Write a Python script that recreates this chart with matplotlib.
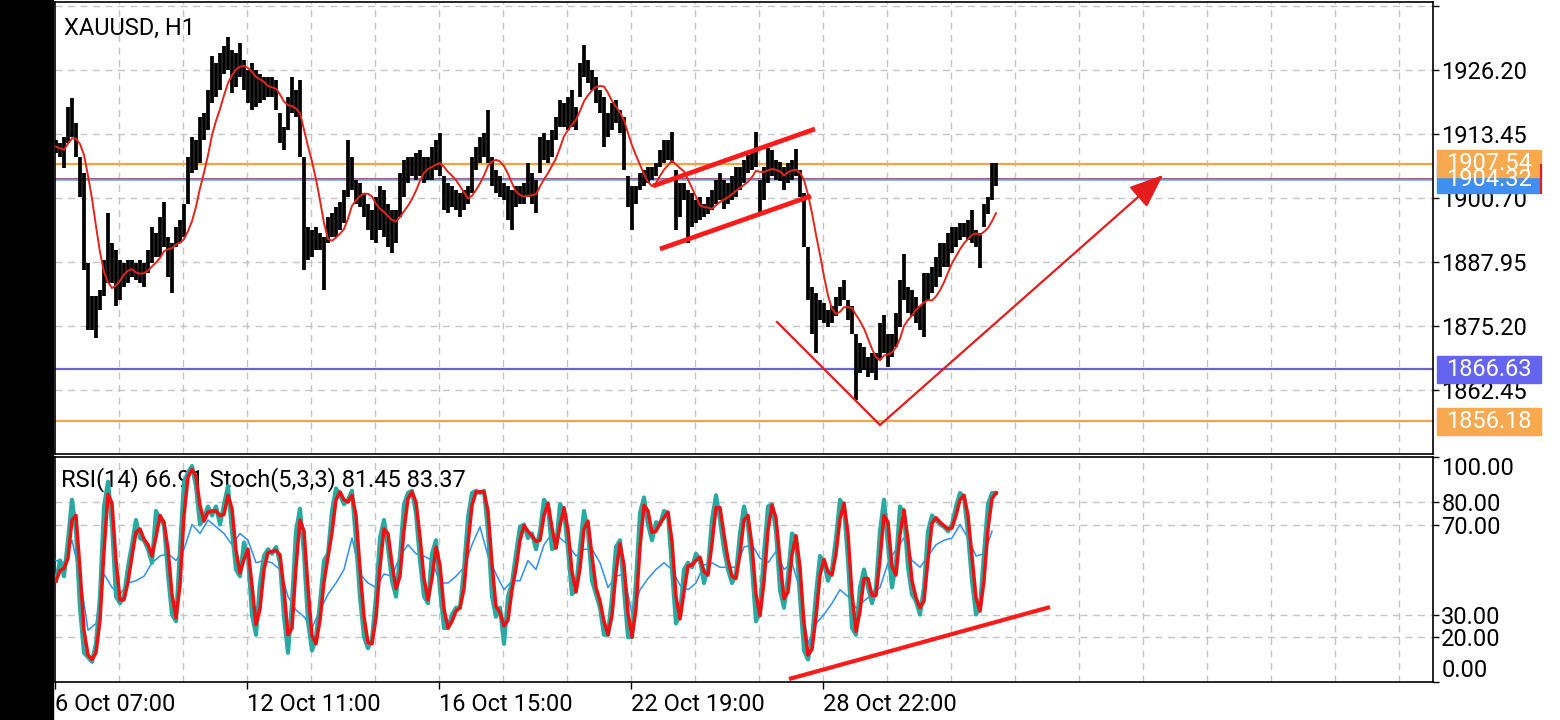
import matplotlib
matplotlib.use("Agg")
import matplotlib.pyplot as plt
from matplotlib.patches import Rectangle
import numpy as np
import pandas as pd

plt.rcParams['font.family'] = ['Roboto', 'DejaVu Sans']

# XAUUSD H1, one value per two hourly bars
bar_high = [
    1912.3, 1911.6, 1912.9, 1918.9, 1920.6, 1915.6, 1908.9, 1905.6, 1887.7, 1881.1,
    1881.1, 1882.4, 1888.4, 1897.7, 1891.7, 1890.4, 1888.4, 1887.7, 1888.4, 1888.4,
    1887.7, 1888.4, 1887.7, 1890.4, 1895.0, 1893.7, 1897.0, 1900.0, 1893.0, 1891.7,
    1895.0, 1896.3, 1899.6, 1908.9, 1912.9, 1912.3, 1916.9, 1917.6, 1922.2, 1928.9,
    1927.5, 1929.5, 1930.9, 1932.8, 1930.2, 1929.5, 1931.5, 1928.2, 1926.2, 1927.5,
    1926.2, 1925.5, 1924.9, 1924.9, 1924.9, 1924.2, 1917.6, 1914.9, 1920.9, 1924.9,
    1922.2, 1924.2, 1908.9, 1895.0, 1894.3, 1895.0, 1893.7, 1893.0, 1897.0, 1897.7,
    1899.0, 1900.0, 1902.3, 1912.3, 1908.9, 1904.3, 1903.6, 1901.6, 1899.6, 1898.3,
    1901.0, 1903.0, 1902.3, 1899.6, 1898.3, 1898.3, 1905.6, 1908.3, 1908.9, 1908.9,
    1909.6, 1910.3, 1908.9, 1908.9, 1910.9, 1912.3, 1913.6, 1905.0, 1903.6, 1903.0,
    1902.3, 1901.6, 1902.3, 1903.0, 1908.9, 1910.9, 1912.9, 1913.6, 1918.2, 1908.9,
    1906.3, 1905.0, 1903.6, 1903.0, 1902.3, 1903.0, 1903.0, 1903.6, 1907.6, 1905.6,
    1904.3, 1912.9, 1913.6, 1912.3, 1914.3, 1916.9, 1920.2, 1919.6, 1920.9, 1922.2,
    1918.9, 1927.5, 1931.2, 1928.2, 1926.2, 1924.9, 1922.2, 1920.9, 1917.6, 1919.6,
    1920.2, 1918.2, 1916.9, 1905.0, 1903.0, 1903.0, 1905.6, 1906.3, 1906.9, 1906.9,
    1907.6, 1910.3, 1912.3, 1912.3, 1913.9, 1906.3, 1903.6, 1903.6, 1902.3, 1901.6,
    1900.3, 1901.0, 1899.6, 1901.0, 1902.3, 1904.3, 1905.6, 1904.3, 1903.6, 1905.0,
    1906.9, 1906.9, 1908.3, 1909.3, 1909.6, 1913.9, 1904.3, 1906.9, 1910.6, 1910.3,
    1908.3, 1907.9, 1906.9, 1907.6, 1908.3, 1910.4, 1906.3, 1901.6, 1891.0, 1883.0,
    1881.7, 1880.4, 1879.7, 1878.4, 1879.1, 1881.0, 1883.0, 1884.4, 1880.4, 1879.1,
    1873.7, 1871.8, 1871.1, 1869.1, 1869.8, 1869.8, 1875.7, 1877.4, 1873.7, 1873.7,
    1877.7, 1884.4, 1889.5, 1883.0, 1882.4, 1881.0, 1879.1, 1885.7, 1885.7, 1887.0,
    1889.0, 1891.7, 1891.7, 1893.7, 1895.0, 1895.0, 1895.7, 1895.7, 1896.3, 1898.3,
    1894.3, 1893.7, 1899.6, 1901.0, 1907.6, 1907.7]
bar_low = [
    1909.6, 1908.9, 1906.6, 1911.6, 1912.9, 1908.9, 1901.0, 1886.4, 1874.4, 1874.4,
    1872.8, 1878.4, 1881.1, 1883.7, 1883.7, 1879.1, 1880.4, 1883.0, 1883.7, 1885.0,
    1884.4, 1883.7, 1883.0, 1885.7, 1887.7, 1889.0, 1889.0, 1891.0, 1885.0, 1881.7,
    1891.0, 1891.7, 1893.0, 1899.6, 1905.6, 1906.3, 1907.6, 1912.3, 1914.3, 1919.6,
    1920.9, 1922.2, 1925.5, 1926.2, 1921.6, 1922.9, 1924.9, 1922.2, 1919.6, 1918.2,
    1918.9, 1919.6, 1920.2, 1920.9, 1920.9, 1918.2, 1911.6, 1910.3, 1914.3, 1917.6,
    1916.9, 1908.9, 1886.4, 1888.4, 1889.0, 1890.3, 1890.3, 1882.4, 1891.7, 1893.0,
    1893.0, 1894.3, 1895.7, 1901.0, 1902.3, 1899.6, 1899.0, 1897.0, 1894.3, 1892.3,
    1891.7, 1894.3, 1893.0, 1891.0, 1889.7, 1891.7, 1897.0, 1901.0, 1903.6, 1905.0,
    1904.3, 1905.0, 1903.6, 1904.3, 1904.3, 1906.3, 1905.0, 1898.3, 1897.7, 1899.0,
    1898.3, 1897.0, 1898.3, 1899.6, 1901.6, 1906.3, 1907.6, 1908.9, 1907.6, 1903.0,
    1901.6, 1901.0, 1900.3, 1896.3, 1894.3, 1899.0, 1899.6, 1899.6, 1901.0, 1899.6,
    1897.7, 1905.6, 1908.3, 1907.6, 1908.9, 1912.3, 1914.9, 1914.9, 1914.3, 1914.9,
    1914.3, 1920.9, 1924.9, 1923.6, 1922.2, 1919.6, 1917.6, 1910.9, 1912.9, 1914.3,
    1915.6, 1913.6, 1906.3, 1899.0, 1894.3, 1899.6, 1902.3, 1903.0, 1903.6, 1904.3,
    1905.0, 1906.9, 1907.6, 1908.3, 1907.6, 1894.3, 1897.0, 1900.3, 1891.7, 1895.0,
    1895.7, 1896.3, 1897.0, 1897.6, 1898.3, 1899.6, 1900.3, 1898.6, 1899.6, 1900.3,
    1901.0, 1902.3, 1903.6, 1905.6, 1906.3, 1906.9, 1898.0, 1900.3, 1903.6, 1905.0,
    1904.3, 1904.0, 1902.3, 1903.6, 1904.3, 1905.0, 1901.0, 1891.0, 1880.4, 1873.7,
    1869.8, 1876.4, 1875.7, 1875.1, 1875.7, 1877.1, 1879.1, 1880.4, 1876.4, 1873.7,
    1860.5, 1865.8, 1866.4, 1865.1, 1865.8, 1864.4, 1868.4, 1869.8, 1867.1, 1869.1,
    1871.1, 1875.1, 1880.4, 1877.7, 1877.1, 1875.7, 1874.4, 1873.1, 1880.4, 1881.7,
    1883.0, 1885.0, 1887.0, 1887.0, 1889.7, 1891.0, 1892.3, 1893.0, 1892.3, 1891.7,
    1891.0, 1886.7, 1895.0, 1897.6, 1900.3, 1903.0]

stoch_k = [
    45, 54, 47, 63, 81, 67, 33, 13, 11, 9,
    17, 38, 78, 89, 70, 38, 35, 38, 51, 61,
    72, 64, 63, 59, 53, 76, 72, 70, 48, 30,
    27, 59, 89, 93, 96, 87, 70, 73, 78, 74,
    78, 70, 79, 87, 67, 50, 47, 62, 56, 30,
    21, 44, 56, 59, 57, 60, 53, 29, 13, 35,
    67, 77, 57, 27, 14, 20, 35, 54, 57, 76,
    86, 83, 79, 81, 85, 63, 38, 20, 15, 19,
    38, 64, 72, 60, 45, 38, 56, 79, 84, 85,
    75, 54, 38, 35, 57, 63, 41, 24, 24, 30,
    33, 33, 50, 73, 84, 85, 84, 85, 67, 38,
    29, 33, 17, 38, 44, 57, 69, 70, 64, 66,
    59, 67, 81, 78, 59, 60, 79, 76, 59, 39,
    41, 60, 76, 67, 45, 39, 33, 21, 21, 38,
    60, 63, 41, 20, 20, 45, 75, 82, 70, 63,
    71, 70, 76, 75, 50, 26, 30, 50, 53, 51,
    57, 54, 44, 51, 72, 83, 72, 59, 50, 44,
    48, 66, 78, 70, 51, 27, 32, 57, 78, 79,
    67, 41, 33, 47, 66, 64, 38, 14, 10, 19,
    39, 56, 53, 45, 50, 64, 81, 78, 54, 24,
    21, 42, 50, 42, 35, 42, 67, 81, 61, 42,
    53, 78, 75, 51, 39, 36, 30, 42, 67, 74,
    72, 70, 69, 67, 70, 78, 84, 82, 66, 45,
    30, 33, 57, 79, 84, 84]

# RSI(14), one value per four hourly bars
rsi = [
    54, 53, 63, 47, 23, 26, 48, 42, 39, 44,
    45, 47, 53, 56, 57, 54, 59, 70, 66, 72,
    69, 66, 61, 66, 63, 53, 54, 53, 50, 38,
    32, 29, 24, 32, 39, 44, 50, 64, 48, 44,
    42, 48, 47, 56, 61, 57, 56, 54, 44, 44,
    47, 51, 61, 69, 56, 48, 41, 45, 45, 54,
    50, 61, 66, 64, 61, 56, 59, 59, 53, 42,
    47, 48, 30, 41, 46, 50, 53, 50, 43, 41,
    44, 52, 53, 51, 51, 51, 60, 61, 55, 53,
    58, 50, 53, 41, 17, 26, 30, 35, 41, 38,
    33, 36, 39, 42, 53, 59, 64, 54, 51, 56,
    61, 63, 64, 70, 64, 56, 57, 67]

price_ticks = [1862.45, 1875.20, 1887.95, 1900.70, 1913.45, 1926.20, 1938.95]
osc_ticks = [0, 20, 30, 70, 80, 100]
date_ticks = [0, 96, 192, 288, 384]
date_labels = ["6 Oct 07:00", "12 Oct 11:00", "16 Oct 15:00", "22 Oct 19:00", "28 Oct 22:00"]

# price levels with a label box on the right: (price, box colour)
levels = [(1904.32, "#3f8ff0"), (1907.54, "#f6a94e"),
          (1866.63, "#6464f0"), (1856.18, "#f6a94e")]

W, H = 1560, 720
fig = plt.figure(figsize=(W / 100, H / 100), dpi=100)
fig.patches.append(Rectangle((0, 0), 53 / W, 1, transform=fig.transFigure,
                             color="black", zorder=0))
ax1 = fig.add_axes([55 / W, (720 - 454) / H, 1378 / W, 452 / H])
ax2 = fig.add_axes([55 / W, (720 - 682) / H, 1378 / W, 225 / H])

grid_kw = dict(color="#c4c4c4", lw=1.0, ls=(0, (5, 4)), zorder=0)
for ax in (ax1, ax2):
    ax.set_xlim(0, 689)
    for gx in range(32, 689, 32):
        ax.axvline(gx, **grid_kw)
    for s in ax.spines.values():
        s.set_color("black")
        s.set_linewidth(1.2)
    ax.yaxis.tick_right()
    ax.tick_params(axis="y", direction="out", length=4, width=1, pad=2,
                   labelsize=17, colors="black")

# --- price panel
ax1.set_ylim(1849.7, 1939.75)
for p in price_ticks:
    ax1.axhline(p, **grid_kw)
ax1.set_yticks(price_ticks)
ax1.set_yticklabels([f"{p:.2f}" for p in price_ticks[:-1]] + [""])
ax1.tick_params(axis="x", bottom=False, labelbottom=False)

xb = np.arange(len(bar_high)) * 2 + 0.5
ax1.vlines(xb, bar_low, bar_high, color="black", lw=2.7, zorder=3)
mid = (pd.Series(bar_high) + pd.Series(bar_low)) / 2
ma = mid.rolling(7, min_periods=1).mean()
ax1.plot(xb, ma, color="#e3241b", lw=1.4, zorder=4)

ax1.axhline(1907.54, color="#f5a540", lw=1.6, zorder=2)
ax1.axhline(1904.55, color="#8c3d6e", lw=1.2, zorder=2)
ax1.axhline(1904.2, color="#6fa8e8", lw=1.2, zorder=2)
ax1.axhline(1866.63, color="#6b63d6", lw=1.6, zorder=2)
ax1.axhline(1856.18, color="#f5a540", lw=1.6, zorder=2)

trans = ax1.get_yaxis_transform()
box_h = 27 / 5.02
for price, box_col in levels:
    ax1.add_patch(Rectangle((1.0029, price - box_h / 2), 0.0755, box_h,
                            transform=trans, color=box_col, clip_on=False, zorder=5))
    ax1.text(1.0406, price, f"{price:.2f}", transform=trans, color="white",
             fontsize=17, ha="center", va="center", clip_on=False, zorder=6)
ax1.plot([1.0785, 1.0785], [1901.7, 1907.3], transform=trans, color="#e02020",
         lw=1.5, clip_on=False, zorder=6)

ax1.text(0.0065, 0.942, "XAUUSD, H1", transform=ax1.transAxes, fontsize=17,
         ha="left", va="center", zorder=1)

# hand drawn channel and V
ax1.plot([299, 380], [1903.1, 1914.45], color="#ff1a1a", lw=3.4,
         solid_capstyle="butt", zorder=6)
ax1.plot([302.5, 378], [1890.54, 1901.1], color="#ff1a1a", lw=3.4,
         solid_capstyle="butt", zorder=6)
ax1.plot([361, 412.5], [1876.0, 1855.48], color="#e41c1c", lw=1.6, zorder=6)
ax1.annotate("", xy=(554, 1905.28), xytext=(412.5, 1855.48),
             arrowprops=dict(arrowstyle="-|>,head_length=1.5,head_width=0.6",
                             mutation_scale=14, color="#e41c1c", lw=1.6,
                             shrinkA=0, shrinkB=0), zorder=6)

# --- oscillator panel
ax2.set_ylim(0, 100)
for v in (20, 30, 70, 80):
    ax2.axhline(v, **grid_kw)
ax2.set_yticks(osc_ticks)
ax2.set_yticklabels([f"{v:.2f}" for v in osc_ticks])
labs = ax2.get_yticklabels()
labs[0].set_va("bottom")
labs[-1].set_va("top")

xr = np.arange(len(rsi)) * 4 + 0.5
xs = np.arange(len(stoch_k)) * 2 + 0.5
stoch_d = pd.Series(stoch_k).rolling(2, min_periods=1).mean()
ax2.plot(xr, rsi, color="#2f8ff0", lw=1.1, zorder=3)
ax2.plot(xs, stoch_k, color="#26aaa2", lw=3.0, zorder=4)
ax2.plot(xs, stoch_d, color="#ee1111", lw=2.5, zorder=5)
ax2.plot([367, 497.5], [1.33, 33.3], color="#ff1a1a", lw=3.0,
         solid_capstyle="butt", zorder=6)
ax2.text(0.004, 0.955, "RSI(14) 66.91 Stoch(5,3,3) 81.45 83.37",
         transform=ax2.transAxes, fontsize=17, ha="left", va="top", zorder=2)

ax2.set_xticks(date_ticks)
ax2.set_xticklabels(date_labels)
for lab in ax2.get_xticklabels():
    lab.set_ha("left")
ax2.tick_params(axis="x", direction="out", length=5, width=1, pad=3,
                labelsize=17, colors="black")

fig.savefig("out.png", dpi=100, facecolor="white")
